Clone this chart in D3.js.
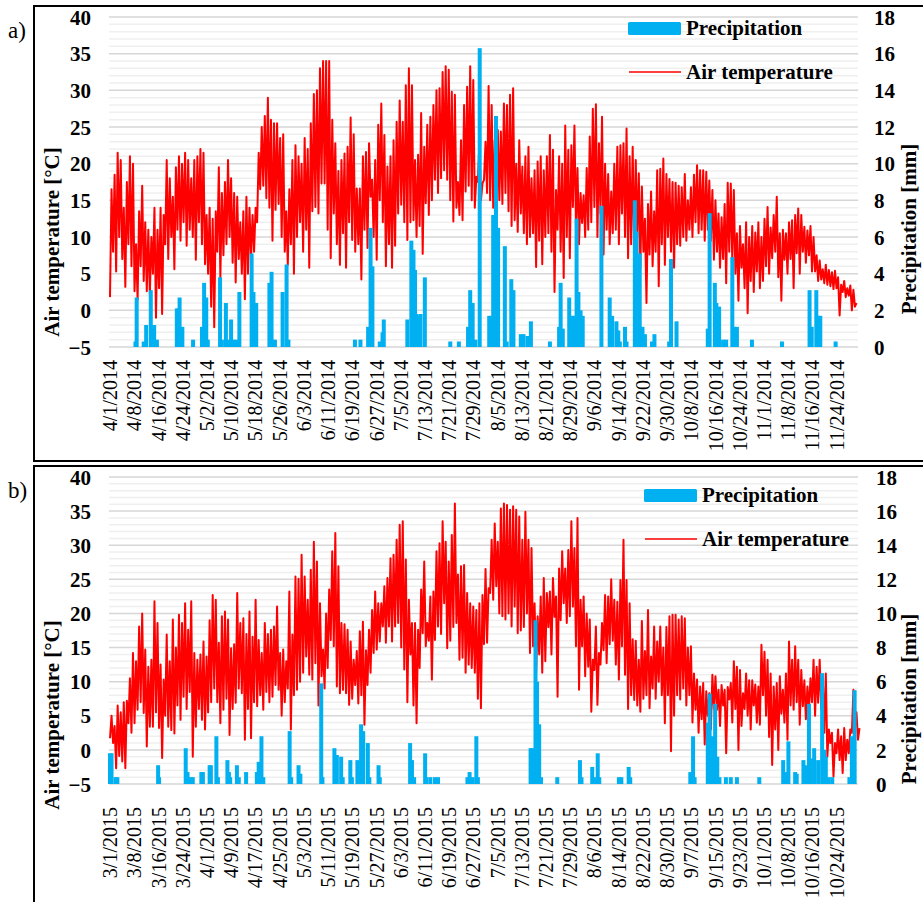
<!DOCTYPE html>
<html>
<head>
<meta charset="utf-8">
<script src="https://cdn.jsdelivr.net/npm/d3@7"></script>
<style>
body { margin: 0; background: #fff; }
svg { display: block; font-family: "Liberation Serif", "Times New Roman", serif; }
</style>
</head>
<body>
<svg class="main" width="923" height="902"></svg>
<script>
// tick labels, one every ~7.9 days
var labelsA = ["4/1/2014","4/8/2014","4/16/2014","4/24/2014","5/2/2014","5/10/2014","5/18/2014","5/26/2014",
    "6/3/2014","6/11/2014","6/19/2014","6/27/2014","7/5/2014","7/13/2014","7/21/2014","7/29/2014","8/5/2014",
    "8/13/2014","8/21/2014","8/29/2014","9/6/2014","9/14/2014","9/22/2014","9/30/2014","10/8/2014","10/16/2014",
    "10/24/2014","11/1/2014","11/8/2014","11/16/2014","11/24/2014"];
var labelsB = ["3/1/2015","3/8/2015","3/16/2015","3/24/2015","4/1/2015","4/9/2015","4/17/2015","4/25/2015",
    "5/3/2015","5/11/2015","5/19/2015","5/27/2015","6/3/2015","6/11/2015","6/19/2015","6/27/2015","7/5/2015",
    "7/13/2015","7/21/2015","7/29/2015","8/6/2015","8/14/2015","8/22/2015","8/30/2015","9/7/2015","9/15/2015",
    "9/23/2015","10/1/2015","10/8/2015","10/16/2015","10/24/2015"];

var tempTicks = [-5, 0, 5, 10, 15, 20, 25, 30, 35, 40];
var precipTicks = [0, 2, 4, 6, 8, 10, 12, 14, 16, 18];

// a) daily max / min air temperature, 4/1/2014 .. 11/30/2014
var tmaxA = [16.5,18.5,21.5,20.5,14,17.5,21,20,9,13.5,
    17,12,11,10,14,11,14,13,20.5,18,
    15.5,19.5,21,20,21.5,20.5,18,20.5,21,22,
    21.5,13,14,12.5,13.5,19.5,16,17.5,20.5,18,
    16,15.5,12,13.5,15.5,14,13,14,21.5,25,
    26.5,29,26,25.5,25.5,23.5,24,13.5,16.5,20.5,
    22.5,21,20,23.5,22,25.5,29.5,30,33,34,
    34,34,26,22.8,19,20.5,21.4,22.3,26.3,24,
    16.6,16.6,21,21.6,22.8,17.8,20.5,25.3,28.2,23.9,
    19.6,21,23.2,25.7,28.6,25.7,30.7,33,30.7,20.5,
    21.2,26.9,22.3,25.3,26.4,28,30,30.3,32.5,33.3,
    32.8,29.8,29.4,17.5,23.2,28,30.5,33.3,31.4,18.2,
    23,17.3,23,30.6,28,23.2,24.6,24.4,28.2,28,
    29.4,30.3,20,23.2,19.6,21,22.3,18,19.1,20.3,
    21,19.1,21,23.9,21.9,16.4,21,20,25.2,21.9,
    22.5,25.2,19.4,16,15.7,19.4,23.7,27.5,28.1,22.8,
    26.4,20,18.6,16.2,20,22.3,22.5,22.8,24.8,21,
    22.3,20.5,18.7,16.9,12.5,14.5,16.2,13.5,19.1,19.3,
    20.7,18.6,17.9,17.5,17.4,17,16.8,18.6,15,16.8,
    18.5,19.8,19.1,19.1,18.9,17.7,16.4,15,13.2,12.7,
    14.5,17.4,17.3,16.4,10.5,11.5,9,12,10,11.5,
    10.6,12,10,12.5,14.1,11.3,13,15.5,10.5,11,
    10.5,12,12.3,13,13.9,13,11.4,10.9,11.5,10,
    7.5,6.8,5.6,6.2,5.5,5.2,5.4,4.5,3.5,4,
    3,3.4,2.8,1];
var tminA = [1.8,8,5.3,10,7,3.2,9,6,2.6,1.4,
    6,4,2.6,2.2,5,-1,3,-0.5,9,7,
    10,5.6,11,9.5,12,8.8,11,10,6.9,12,
    9,6.3,5,0.5,-2.3,8,4.4,7.5,9,10,
    6.5,3.8,7,5,1.5,5,7.1,8,12,16.5,
    17,15.3,14,9.5,13.7,14.5,10,8,6.2,9,
    5,10,12,8,11,5.8,13.5,14.1,13.2,17.3,
    17.3,11,7.1,13.2,9,6.2,10.5,5.8,12,9.6,
    8,9,4.2,11,8.5,15.5,10,6.9,15,12,
    6,9,5.8,8.8,13.2,14.4,12,9.6,12,12.3,
    10,11.5,7.7,14.6,13,15,17.8,16,18,19.1,
    17.8,15,12.1,14,13,12.3,16.2,17,15,14,
    17.5,15,17.8,16,15,14,13.2,15,14.5,16,
    13.5,11.5,12.3,10.7,13.2,10.5,9,10,10.5,5.9,
    9.5,6.3,10,10.5,8,2.5,11,8,4.4,10,
    7.1,14.1,11.4,9,11.9,10,11,12,14.1,10,
    13.2,7.6,11,9,10.5,11,9,13.2,10,7.1,
    9,8,10,5.8,8,1,7.6,6,8,3.3,
    9,6.2,10,8,5.8,9,8.8,10,9.5,11,
    10,12,10.5,11,9.5,11,9.5,6.9,8,5.8,
    7,3.7,8,6.6,5,1.3,5.8,3,-0.4,4,
    2.5,5.3,3,4,6,5,7.1,8,4.5,1.3,
    6.9,5,7,3,7.8,5,8,6.5,7.5,5.3,
    5.3,4,4.2,3.7,3.5,3.3,2.9,3,-0.7,2.5,
    1.8,2,0,0.5];

// b) daily max / min air temperature, 3/1/2015 .. 10/31/2015
var tmaxB = [5,3.5,6.5,5.5,7,7.2,10.5,14.2,13,18.1,
    20,14.7,12.2,13.2,21.8,18.6,12.5,10.3,16.9,13,
    19.1,15,19.8,18.6,21.5,17.6,21.8,14.2,13.2,14,
    15.9,13.7,19,22.7,22,15.7,19.6,20.3,19.1,14.9,
    15.5,23,18.6,19.3,17,20.3,16.6,22,16.1,14.2,
    18.6,17,17.6,18.1,21,14.2,14.7,13,23.2,16.9,
    25.4,25.1,28.6,25.4,22,26.4,30.5,27.6,21.5,14.7,
    20,23.5,29.1,31.8,26.9,18.6,18.4,17.6,15.9,13.2,
    14.5,17.4,18.8,14.6,17.6,20.5,23.2,21.5,21.5,24,
    25.2,28.1,28.6,30.8,33,33.5,27.9,22,18.6,18.6,
    17.6,23.5,27.6,18.6,22.5,23.2,29.1,30.3,33.5,30.5,
    27.6,31.5,36.1,25.7,26.9,27.1,23,21.5,21,20.5,
    21.5,22.7,26.5,23.7,30.8,33.2,30.5,35.4,36.1,35.9,
    35.2,35.7,35.2,34.2,30.8,34.9,30.8,29.6,21.5,19.6,
    22.5,25.2,23,23.2,25.2,22.5,26.6,29.1,26.6,29.3,
    33.5,29.6,34,22,22.5,20,19.1,13.2,18.1,14.2,
    18.6,22.7,22.5,25,22,21.7,24.9,30.8,24.9,21.5,
    16.2,16,13.2,18.9,14.5,20.5,13.7,18.1,15.9,18.1,
    15,18,19.6,19.8,19.8,19.1,19.6,19.3,15,15.2,
    11.2,10.3,9.3,9.8,8.6,8.3,11,10.8,8.8,9.5,
    8.8,9.2,9.8,13,12.2,11.7,8.3,11.2,10.2,10.2,
    9.6,9.3,15.4,14.4,13.2,11.2,9.3,9.8,10.8,8.8,
    11.2,15.9,13.2,15.2,13.2,11.7,10.2,9.3,10.5,13.2,
    12.2,13.2,10.8,11.2,3,2.5,1,3,2,3.2,
    1.5,3,8.8,5.5,3.2];
var tminB = [1.7,1,-2.7,-0.9,-1.7,-2.7,3.9,2.5,3.9,5.9,
    7,5.4,0.5,3.4,3.4,5.5,3.2,-1.2,5,3.4,
    2.9,2.4,6.5,4.4,7.8,6,8.5,-1,3.4,6,
    4.4,3,5.5,7,9,7,3.9,5.9,7.5,2.2,
    6,6.9,9,8.3,1.5,6,1.7,7,6.4,8,
    5.9,8.5,7,7.8,9.5,8.8,5,7,9,3,
    8,8.8,10,11.3,13.7,11,10.3,12.7,6.5,10.8,
    9,12,16.1,15.2,9.3,8.3,8.8,8.3,6.6,7.5,
    9.5,6.8,8,3.7,9.5,11.3,14.2,14.7,15.9,18.1,
    15.7,18.1,15.9,18.1,18.6,15,11.8,7,14,6.5,
    3.9,12,17.1,15.2,16,10.3,16.1,18.1,17,21.5,
    14.9,16,18,18.6,13.2,13.5,11.3,12.5,12,11.3,
    7.5,6.1,15.5,15.7,23,22,24,20,19.6,19.1,
    20,18.1,21,17.1,17.5,18,20,14.2,15.2,11.3,
    14,11.3,13,18,14,19.5,7.8,19,21.5,18.6,
    19.6,21,15.2,8.8,15.2,10.8,12.2,5.6,11.7,6.6,
    12.5,14.6,12.7,15.5,16,12.5,10.3,15.2,11,6,
    8,7.3,6.5,5.6,7.5,8,6.1,9,7.5,10,
    8,3.9,8,-0.2,5,8,7.4,9,6.5,8,
    4,5.9,2.5,4.5,0.8,5,3,6,5.9,3.5,
    6.5,-0.5,7.4,4,6,0,3.5,6,5,3,
    6.5,4,3.7,8,5,1.9,-2.2,3,0,5.3,
    4,1.5,6.5,5.9,7,3.7,6.4,4.5,5.9,7,
    5,6.9,6,2.5,-1,1,-3.9,-0.5,-1.5,-3.4,
    -1.5,-0.5,2.5,3.2,1.5];

// precipitation events: day offset from the first date, amount in mm
var rainDayA = [8.3,8.7,11,11.8,13.3,13.9,14.4,15.3,21.8,22.3,22.7,23.6,27.1,30,30.7,31.4,31.9,
    35.9,36.5,37.8,38.5,39.5,40.2,41.3,42.2,46.2,46.8,47.7,52,52.7,53.8,56.3,57.6,58.2,
    79.9,81.7,84.2,85,85.6,88,88.9,89.3,97,98.3,99,99.5,100,100.8,101.3,102.7,
    111,113.8,116.8,117.5,118.3,119.2,120.6,123.7,124.5,125,125.9,126.6,128.8,129.4,130.9,131.6,
    134,134.9,136.2,137.3,143.5,146.5,147,147.7,149.8,150.6,151.4,152.2,152.8,153.5,154.2,
    160.3,163,163.8,165.2,165.8,166.3,168,168.5,171.2,171.8,172.8,173.7,174.5,176.8,177.6,
    182.4,183,184.8,195,195.6,197.3,197.8,198.7,200,201,203,203.6,204.5,209.4,219.2,
    228.2,228.9,230.4,231,231.7,236.7];
var rainA = [0.3,2.7,0.3,1.2,3.1,1.2,1.2,0.4,2.1,2.1,2.7,1.1,0.4,1.1,3.5,2.7,0.4,
    3.8,0.4,2.4,0.4,1.5,0.4,0.4,3,5.1,3,2.4,3.5,4.1,0.4,3,4.5,0.4,
    0.4,0.4,1.1,6.5,4.4,0.3,0.8,1.5,1.5,5.8,5.3,4.2,1.8,1.7,1.8,3.8,
    0.3,0.3,1.1,3.1,2.4,0.4,16.3,1.7,1.7,7.2,12.6,6.5,5.5,0.3,3.7,3.1,
    0.7,0.7,0.6,1.4,0.3,1.1,3.5,1,2.7,1.7,1.7,7,3,2,1.7,
    7.7,2.7,1.7,1.4,0.9,0.3,1.1,0.3,8,6.3,5.1,1.1,0.7,0.3,0.7,
    0.3,4.8,1.4,1,7.3,3.5,2.4,2.2,0.4,0.4,4.9,1.1,1.1,0.4,0.3,
    3.1,1.1,3.1,1.7,1.7,0.3];

var rainDayB = [0,0.5,1.8,2.4,15.7,16,24.7,25.3,26.3,27,29.8,30.3,32.5,32.9,34.7,35.2,38.3,38.8,39.2,
    41.4,42,44.4,47.9,48.5,49.4,50,58.6,59.1,61.5,62.1,68.9,69.3,73.2,74,75.4,75.9,78.4,78.9,
    80.7,81.1,81.9,82.6,84.1,84.6,87.6,88,97.9,98.5,99.2,102.8,103.2,104.5,106,107,
    116.6,117.3,118.3,119.5,120,137.2,137.9,138.8,139.3,140,140.6,145.9,153.3,153.8,157.3,158,
    159.1,159.6,166,166.8,169.2,169.7,189.3,190.2,190.7,195,195.6,196.5,197.4,198.1,198.8,
    200.9,202.5,204.5,211.8,219.6,220.3,221.3,223.5,224,226.2,227,228,228.6,229.7,231,
    232.3,233,233.5,234.4,235.6,241.2,242,242.9];
var rainB = [1.8,1.8,0.4,0.4,1.1,0.4,2.1,0.7,0.4,0.4,0.7,0.7,1.1,1.1,2.8,0.4,1.4,0.7,0.4,
    1.1,0.4,0.7,0.7,1.3,2.8,0.4,3.1,0.4,1.1,0.6,5.9,0.4,2.1,1.7,1.6,0.4,1.4,0.4,
    1.4,0.8,3.5,3.1,2.4,0.4,1.1,0.4,2.4,1.4,0.4,1.8,0.4,0.4,0.4,0.4,
    0.4,0.7,0.4,2.8,0.4,2.1,2.1,9.6,6,3.5,0.4,0.4,1.4,0.4,1,0.4,
    1.8,0.4,0.4,0.4,1,0.4,0.7,2.8,0.4,3.6,5.3,2.8,4.7,1.6,0.4,
    0.4,0.4,0.4,0.4,1.4,0.7,2.5,0.7,0.6,1.4,1.1,4.7,1.5,2.1,1.4,
    6.5,2,1.6,0.4,0.4,0.4,2.8,5.5];

var svg = d3.select(".main"),
    blue = "#00b0f0",
    red = "#ff0000";

var x = d3.scaleLinear().domain([0, 244]).range([110, 858]);

function drawPanel(p) {
    var g = svg.append("g");
    var yT = d3.scaleLinear().domain([-5, 40]).range([p.bottom, p.top]);
    var yP = d3.scaleLinear().domain([0, 18]).range([p.bottom, p.top]);

    // frame
    g.append("rect")
        .attr("x", 34).attr("y", p.frameY)
        .attr("width", 900).attr("height", p.frameH)
        .attr("fill", "none").attr("stroke", "#000").attr("stroke-width", 2);

    g.append("text")
        .attr("x", 8).attr("y", p.letterY)
        .attr("font-size", 23)
        .text(p.letter);

    // grid: minor every 1 degree, major every 5
    g.append("g").selectAll("line")
        .data(d3.range(-5, 41))
        .join("line")
        .attr("x1", 109).attr("x2", 858)
        .attr("y1", function(d) { return yT(d); })
        .attr("y2", function(d) { return yT(d); })
        .attr("stroke", function(d) { return d % 5 === 0 ? "#d6d6d6" : "#efefef"; })
        .attr("stroke-width", 1.5);

    // temperature: min and max of each day, in turn
    var pts = [];
    p.tmin.forEach(function(v, i) {
        pts.push([i, v]);
        pts.push([i + 0.5, p.tmax[i]]);
    });
    var line = d3.line()
        .x(function(d) { return x(d[0]); })
        .y(function(d) { return yT(d[1]); });
    g.append("path")
        .attr("d", line(pts))
        .attr("fill", "none")
        .attr("stroke", red)
        .attr("stroke-width", 2)
        .attr("stroke-linejoin", "round");

    // precipitation bars
    g.append("g").selectAll("rect")
        .data(p.rainDay)
        .join("rect")
        .attr("x", function(d) { return x(d) - 2; })
        .attr("width", 4)
        .attr("y", function(d, i) { return yP(p.rain[i]); })
        .attr("height", function(d, i) { return yP(0) - yP(p.rain[i]); })
        .attr("fill", blue);

    // axes
    var xAxis = g.append("g")
        .attr("transform", "translate(0," + p.bottom + ")")
        .call(d3.axisBottom(x)
            .tickValues(d3.range(p.labels.length).map(function(i) { return i * 237 / 30; }))
            .tickFormat(function(d, i) { return p.labels[i]; })
            .tickSize(0));
    xAxis.select(".domain").remove();
    xAxis.attr("font-family", null).attr("font-size", 20);
    xAxis.selectAll("text")
        .attr("fill", "#000")
        .attr("y", 0)
        .attr("x", -(p.labelY - p.bottom))
        .attr("dy", "0.33em")
        .attr("transform", "rotate(-90)")
        .style("text-anchor", "end");

    var yAxis = g.append("g")
        .attr("transform", "translate(91,0)")
        .call(d3.axisLeft(yT).tickValues(tempTicks).tickSize(0).tickPadding(0));
    yAxis.select(".domain").remove();
    yAxis.attr("font-family", null).attr("font-size", 21).attr("font-weight", "bold");
    yAxis.selectAll("text").attr("fill", "#000").attr("dy", "0.34em");

    var y2Axis = g.append("g")
        .attr("transform", "translate(" + p.rightX + ",0)")
        .call(d3.axisRight(yP).tickValues(precipTicks).tickSize(0).tickPadding(0));
    y2Axis.select(".domain").remove();
    y2Axis.attr("font-family", null).attr("font-size", 21).attr("font-weight", "bold");
    y2Axis.selectAll("text").attr("fill", "#000").attr("dy", "0.34em");

    // axis titles
    g.append("text")
        .attr("transform", "translate(59," + p.leftTitleY + ") rotate(-90)")
        .attr("text-anchor", "middle")
        .attr("font-size", 21).attr("font-weight", "bold")
        .text("Air temperature [°C]");
    g.append("text")
        .attr("transform", "translate(916," + p.rightTitleY + ") rotate(-90)")
        .attr("text-anchor", "middle")
        .attr("font-size", 21).attr("font-weight", "bold")
        .text("Precipitation [mm]");

    // legend
    var lg = g.append("g").attr("font-size", 21).attr("font-weight", "bold");
    lg.append("rect")
        .attr("x", p.legX).attr("y", p.legY)
        .attr("width", 53).attr("height", 13).attr("rx", 1.5)
        .attr("fill", blue);
    lg.append("text")
        .attr("x", p.legX + 58).attr("y", p.legY + 13)
        .text("Precipitation");
    lg.append("line")
        .attr("x1", p.legX + 1).attr("x2", p.legX + 53)
        .attr("y1", p.legY + 50).attr("y2", p.legY + 50)
        .attr("stroke", red).attr("stroke-width", 1.5);
    lg.append("text")
        .attr("x", p.legX + 58).attr("y", p.legY + 57)
        .text("Air temperature");
}

drawPanel({
    letter: "a)", letterY: 38,
    top: 17, bottom: 347, labelY: 360,
    frameY: 6, frameH: 455,
    rightX: 874, leftTitleY: 242, rightTitleY: 229,
    legX: 628, legY: 22,
    labels: labelsA, tmax: tmaxA, tmin: tminA, rainDay: rainDayA, rain: rainA
});
drawPanel({
    letter: "b)", letterY: 498,
    top: 477, bottom: 784, labelY: 807,
    frameY: 466, frameH: 450,
    rightX: 876, leftTitleY: 715, rightTitleY: 699,
    legX: 644, legY: 489,
    labels: labelsB, tmax: tmaxB, tmin: tminB, rainDay: rainDayB, rain: rainB
});
</script>
</body>
</html>
